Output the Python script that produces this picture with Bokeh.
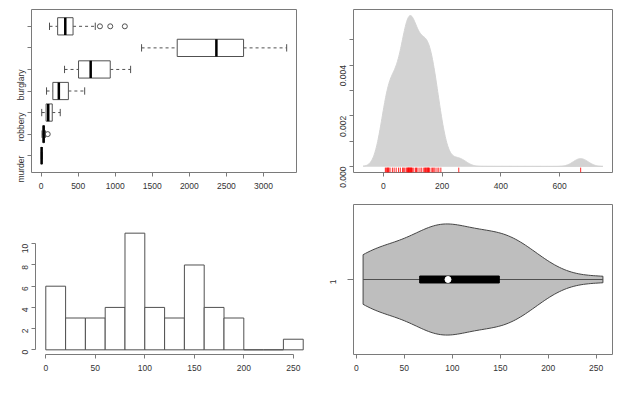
import math
import numpy as np
from bokeh.plotting import figure
from bokeh.layouts import column, row
from bokeh.models import Range1d, FixedTicker, CustomJSTickFormatter
from bokeh.embed import file_html
from bokeh.resources import INLINE

# ---------------- data ----------------
crime_vars = ["murder", "forcible_rape", "robbery", "aggravated_assault",
              "burglary", "larceny_theft", "motor_vehicle_theft"]
crime_tick_labels = ["murder", "", "robbery", "", "burglary", "", ""]
box_low = [1.5, 11, 7, 72, 315, 1355, 112]
box_q1 = [3.5, 26, 66, 157, 504, 1836, 222]
box_med = [5.5, 33, 95, 238, 668, 2365, 325]
box_q3 = [7.3, 40, 149, 367, 932, 2732, 430]
box_high = [13, 58, 257, 587, 1207, 3314, 730]
out_var = [2, 7, 7, 7]
out_val = [88, 793, 932, 1129]

robbery = [7, 10, 13, 15, 17, 19, 23, 31, 37, 44, 52, 58, 66, 68, 73, 78,
           81, 83, 85, 86, 88, 90, 91, 93, 95, 96, 99, 104, 110, 113, 118,
           125, 131, 138, 141, 144, 146, 149, 150, 153, 154, 157, 163, 168,
           172, 176, 183, 189, 196, 257]
robbery_dc = [672]
hist_breaks = list(range(0, 261, 20))

FONT = "Liberation Sans"
FS = "8.5px"
TXT = "#333333"
FRAME = "#7a7a7a"
LINE = "#505050"


def pad(lo, hi, f=0.04):
    d = (hi - lo) * f
    return Range1d(lo - d, hi + d)


def style(p, frame=True):
    p.grid.visible = False
    p.outline_line_color = FRAME if frame else None
    p.outline_line_width = 1
    for ax in p.xaxis + p.yaxis:
        ax.major_label_text_font = FONT
        ax.major_label_text_font_size = FS
        ax.major_label_text_color = TXT
        ax.major_tick_in = 0
        ax.major_tick_out = 4
        ax.major_tick_line_color = FRAME
        ax.minor_tick_line_color = None
        ax.axis_line_color = None if frame else FRAME
        ax.major_label_standoff = 6
    p.yaxis.major_label_orientation = math.pi / 2


def mk(fw, fh, xr, yr, l, r, t, b):
    return figure(frame_width=fw, frame_height=fh, x_range=xr, y_range=yr,
                  title=None, output_backend="svg", toolbar_location=None,
                  min_border_left=l, min_border_right=r,
                  min_border_top=t, min_border_bottom=b,
                  background_fill_color="white", border_fill_color="white")


# ---------------- top-left: horizontal boxplots ----------------
allv = box_low + box_high + out_val
p1 = mk(265, 163, pad(min(allv), max(allv)), pad(0.5, 7.5), 31, 24, 9, 28)
ys = list(range(1, 8))
p1.segment(x0=box_low, y0=ys, x1=box_q1, y1=ys, line_color=LINE,
           line_dash="3 3", line_width=1)
p1.segment(x0=box_q3, y0=ys, x1=box_high, y1=ys, line_color=LINE,
           line_dash="3 3", line_width=1)
p1.segment(x0=box_low, y0=[y - 0.17 for y in ys], x1=box_low,
           y1=[y + 0.17 for y in ys], line_color=LINE, line_width=1)
p1.segment(x0=box_high, y0=[y - 0.17 for y in ys], x1=box_high,
           y1=[y + 0.17 for y in ys], line_color=LINE, line_width=1)
p1.quad(left=box_q1, right=box_q3, bottom=[y - 0.4 for y in ys],
        top=[y + 0.4 for y in ys], fill_color="white", line_color=LINE,
        line_width=1)
p1.segment(x0=box_med, y0=[y - 0.4 for y in ys], x1=box_med,
           y1=[y + 0.4 for y in ys], line_color="black", line_width=2.5)
p1.scatter(x=out_val, y=out_var, marker="circle", size=5, fill_color=None,
           line_color=LINE, line_width=1)
p1.xaxis.ticker = FixedTicker(ticks=[0, 500, 1000, 1500, 2000, 2500, 3000])
p1.yaxis.ticker = FixedTicker(ticks=ys)
p1.yaxis.major_label_overrides = {y: lab for y, lab in zip(ys, crime_tick_labels)}
style(p1)

# ---------------- top-right: density with rug ----------------
xd = np.array(robbery + robbery_dc, dtype=float)
n = len(xd)
q75, q25 = np.percentile(xd, [75, 25])
bw = 0.9 * min(xd.std(ddof=1), (q75 - q25) / 1.34) * n ** -0.2
gx = np.linspace(xd.min() - 3 * bw, xd.max() + 3 * bw, 512)
dens = np.exp(-0.5 * ((gx[:, None] - xd[None, :]) / bw) ** 2).sum(1) / (n * bw * math.sqrt(2 * math.pi))
yr2 = pad(0.0, dens.max())
p2 = mk(259, 163, pad(gx[0], gx[-1]), yr2, 33, 11, 9, 28)
p2.patch(gx, dens, fill_color="#d3d3d3", line_color="#d3d3d3", line_width=1)
y0 = yr2.start
y1 = yr2.start + 0.03 * (yr2.end - yr2.start)
p2.segment(x0=xd, y0=[y0] * n, x1=xd, y1=[y1] * n, line_color="red",
           line_alpha=0.85, line_width=1)
p2.xaxis.ticker = FixedTicker(ticks=[0, 200, 400, 600])
p2.yaxis.ticker = FixedTicker(ticks=[0, 0.001, 0.002, 0.003, 0.004, 0.005])
p2.yaxis.formatter = CustomJSTickFormatter(
    code="return (Math.round(tick*1000) % 2 == 0) ? tick.toFixed(3) : '';")
style(p2)

# ---------------- bottom-left: histogram ----------------
counts, edges = np.histogram(robbery, bins=hist_breaks)
yr3 = pad(0, counts.max())
# plot region is 126px tall in the reference; the frame here is 150px so that
# it lines up with its neighbour, so the range is lengthened at the top alone
yr3.end = yr3.start + (yr3.end - yr3.start) * 150 / 126
p3 = mk(278, 150, pad(hist_breaks[0], hist_breaks[-1]), yr3, 35, 7, 4, 41)
p3.quad(left=edges[:-1], right=edges[1:], bottom=0, top=counts,
        fill_color="white", line_color=LINE, line_width=1)
p3.xaxis.ticker = FixedTicker(ticks=[0, 50, 100, 150, 200, 250])
p3.yaxis.ticker = FixedTicker(ticks=[0, 2, 4, 6, 8, 10])
style(p3, frame=False)
p3.xaxis.bounds = (0, 250)
p3.yaxis.bounds = (0, 10)

# ---------------- bottom-right: violin ----------------
v = np.sort(np.array(robbery, dtype=float))
m = len(v)


def fivenum(a):
    a = np.sort(a)
    k = len(a)
    n4 = math.floor((k + 3) / 2) / 2
    idx = [1, n4, (k + 1) / 2, k + 1 - n4, k]
    return [0.5 * (a[math.floor(i) - 1] + a[math.ceil(i) - 1]) for i in idx]


fmin, fq1, fmed, fq3, fmax = fivenum(v)
h = v.std(ddof=1) * (4 / (3 * m)) ** 0.2
vx = np.linspace(v.min(), v.max(), 100)
est = np.exp(-0.5 * ((vx[:, None] - v[None, :]) / h) ** 2).sum(1)
half = est * 0.4 / est.max()
p4 = mk(259, 150, pad(v.min(), v.max()), pad(0.5, 1.5), 33, 11, 4, 41)
p4.patch(np.concatenate([vx, vx[::-1]]), np.concatenate([1 + half, (1 - half)[::-1]]),
         fill_color="#bebebe", line_color="#454545", line_width=1)
p4.segment(x0=[fmin], y0=[1], x1=[fmax], y1=[1], line_color="#505050", line_width=1)
p4.quad(left=[fq1], right=[fq3], bottom=[1 - 0.025], top=[1 + 0.025],
        fill_color="black", line_color="black")
p4.scatter(x=[fmed], y=[1], marker="circle", size=6, fill_color="white",
           line_color="white")
p4.xaxis.ticker = FixedTicker(ticks=[0, 50, 100, 150, 200, 250])
p4.yaxis.ticker = FixedTicker(ticks=[1])
style(p4)
p4.yaxis.major_tick_out = 6
p4.yaxis.major_label_standoff = 15

layout = column(row(p1, p2), row(p3, p4))
open("out.html", "w").write(file_html(layout, INLINE))
